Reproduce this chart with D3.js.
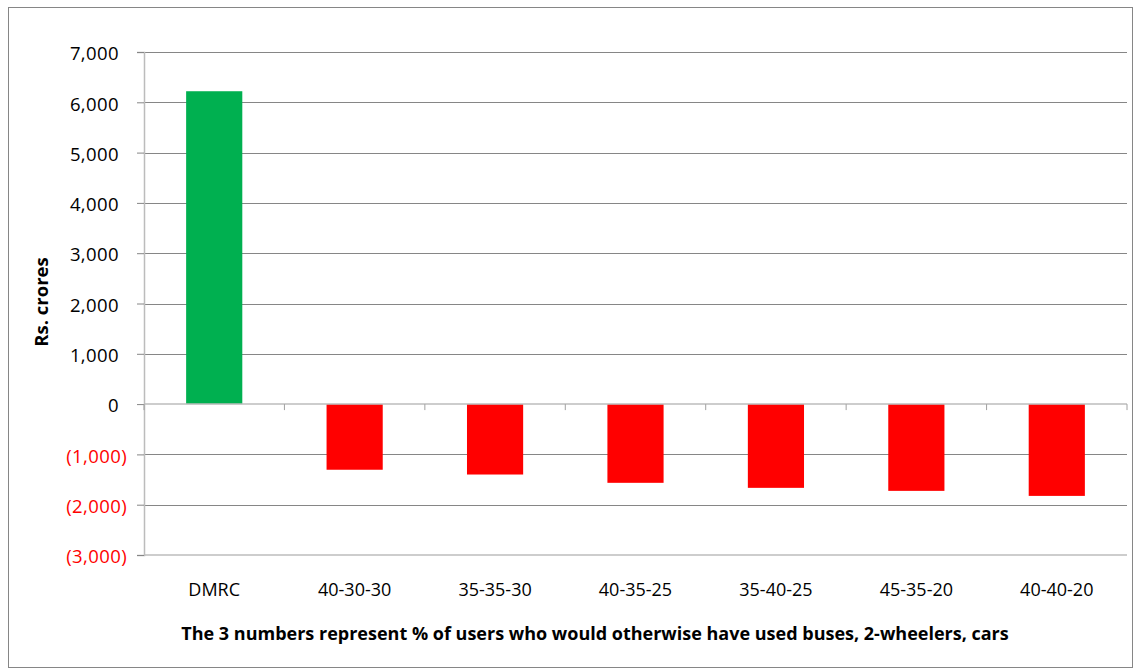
<!DOCTYPE html>
<html>
<head>
<meta charset="utf-8">
<script src="https://cdn.jsdelivr.net/npm/d3@7"></script>
<style>
  body { margin: 0; background: #fff; }
  text { font-family: "Open Sans", Lato, sans-serif; }
</style>
</head>
<body>
<div id="chart"></div>
<script>
const categories = ["DMRC", "40-30-30", "35-35-30", "40-35-25", "35-40-25", "45-35-20", "40-40-20"];
const values = [6220, -1305, -1400, -1565, -1665, -1725, -1825];
const yTicks = [7000, 6000, 5000, 4000, 3000, 2000, 1000, 0, -1000, -2000, -3000];

const size = { width: 1140, height: 670 };
const plot = { left: 144, right: 1127, top: 52, bottom: 555 };

const svg = d3.select("#chart")
  .append("svg")
  .attr("width", size.width)
  .attr("height", size.height);

// outer chart border
svg.append("rect")
  .attr("x", 8.5).attr("y", 7.5)
  .attr("width", 1124).attr("height", 660)
  .attr("fill", "#fff")
  .attr("stroke", "#868686");

const x = d3.scaleBand()
  .domain(categories)
  .range([plot.left, plot.right])
  .paddingInner(0.6)
  .paddingOuter(0.3);

const y = d3.scaleLinear()
  .domain([-3000, 7000])
  .range([plot.bottom, plot.top]);

const fmt = (v) => v < 0 ? `(${d3.format(",")(-v)})` : d3.format(",")(v);

// gridlines
svg.append("g")
  .selectAll("line")
  .data(yTicks.filter((d) => d !== 0 && d !== -3000))
  .join("line")
  .attr("x1", plot.left).attr("x2", plot.right)
  .attr("y1", (d) => Math.round(y(d)) + 0.5)
  .attr("y2", (d) => Math.round(y(d)) + 0.5)
  .attr("stroke", "#868686")
  .attr("stroke-width", 1);

// bottom line at -3000
svg.append("line")
  .attr("x1", plot.left).attr("x2", plot.right)
  .attr("y1", y(-3000)).attr("y2", y(-3000))
  .attr("stroke", "#bcbcbc").attr("stroke-width", 1.5);

// bars
svg.append("g")
  .selectAll("rect")
  .data(categories.map((c, i) => ({ c, v: values[i] })))
  .join("rect")
  .attr("x", (d) => x(d.c))
  .attr("width", x.bandwidth())
  .attr("y", (d) => y(Math.max(0, d.v)))
  .attr("height", (d) => Math.abs(y(d.v) - y(0)))
  .attr("fill", (d) => d.v >= 0 ? "#00b050" : "#ff0000");

// y axis
const yAxis = svg.append("g")
  .attr("transform", `translate(${plot.left},0)`)
  .call(d3.axisLeft(y).tickValues(yTicks).tickSize(7).tickFormat(fmt));
yAxis.select(".domain").attr("stroke", "#bcbcbc").attr("stroke-width", 1.5);
yAxis.selectAll(".tick line").attr("stroke", "#868686");
// accounting style: positives leave room for the closing bracket
yAxis.selectAll(".tick text")
  .attr("font-size", 18.5)
  .attr("letter-spacing", 0.4)
  .attr("x", (d) => d < 0 ? -17 : -25)
  .attr("dy", "0.42em")
  .attr("fill", (d) => d < 0 ? "#ff0000" : "#000");

// x axis on zero line
const tickXs = d3.range(categories.length + 1).map((i) => plot.left + i * (plot.right - plot.left) / categories.length);
svg.append("line")
  .attr("x1", plot.left).attr("x2", plot.right)
  .attr("y1", y(0)).attr("y2", y(0))
  .attr("stroke", "#bcbcbc").attr("stroke-width", 1.5);
svg.append("g")
  .selectAll("line")
  .data(tickXs)
  .join("line")
  .attr("x1", (d) => d).attr("x2", (d) => d)
  .attr("y1", y(0)).attr("y2", y(0) + 6)
  .attr("stroke", "#a0a0a0");

// category labels
svg.append("g")
  .selectAll("text")
  .data(categories)
  .join("text")
  .attr("x", (d) => x(d) + x.bandwidth() / 2)
  .attr("y", 596)
  .attr("text-anchor", "middle")
  .attr("font-size", 18)
  .text((d) => d);

// axis titles
svg.append("text")
  .attr("transform", "translate(48,302) rotate(-90)")
  .attr("text-anchor", "middle")
  .attr("font-size", 18.5)
  .attr("font-weight", "bold")
  .text("Rs. crores");

svg.append("text")
  .attr("x", 595)
  .attr("y", 640)
  .attr("text-anchor", "middle")
  .attr("font-size", 18)
  .attr("font-weight", "bold")
  .text("The 3 numbers represent % of users who would otherwise have used buses, 2-wheelers, cars");
</script>
</body>
</html>
